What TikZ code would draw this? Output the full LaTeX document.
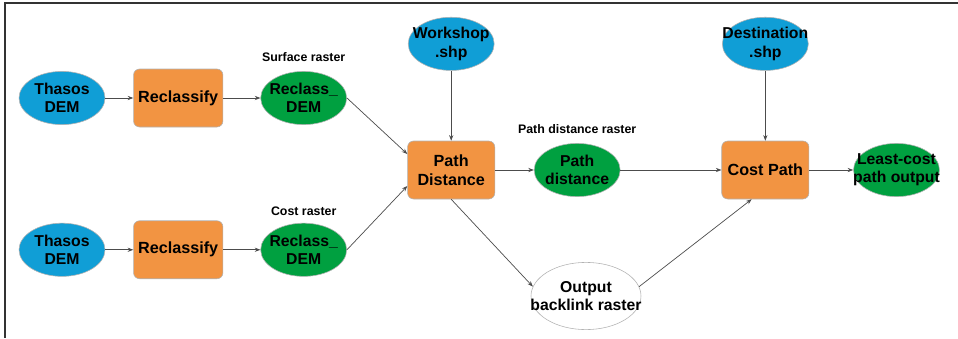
\documentclass[tikz,border=0pt]{standalone}
\usepackage{fontspec}
\setmainfont{Liberation Sans}
\usepackage{tikz}
\usetikzlibrary{positioning, shapes.geometric, arrows.meta}

\definecolor{inblue}{RGB}{16,158,214}
\definecolor{toolorange}{RGB}{242,148,66}
\definecolor{outgreen}{RGB}{0,160,64}

\begin{document}
\begin{tikzpicture}[
                tool/.style={draw=black!30, rectangle, rounded corners=0.15cm, fill=toolorange, minimum width=2.18cm, minimum height=1.45cm, align=center, font=\fontsize{11.5}{13.5}\selectfont\bfseries},
                blob/.style={draw=black!30, ellipse, minimum width=2.15cm, minimum height=1.33cm, inner xsep=-0.45cm, inner ysep=0pt, align=center, font=\fontsize{11.2}{13}\selectfont\bfseries},
                data/.style={blob, fill=inblue},
                result/.style={blob, fill=outgreen},
                rastername/.style={inner sep=0pt, font=\fontsize{8.8}{10}\selectfont\bfseries},
                edge/.style={draw=black!70, line width=0.5pt, -{Stealth[length=4pt, width=3pt]}}
            ]

            \useasboundingbox (0,0) rectangle (23.95,-8.45);
            \draw[line width=1.3pt, black!80] (23.95,-0.075) -- (0.125,-0.075) -- (0.125,-8.45);

            % nodes
            \node[data] (demA) at (1.55,-2.45) {Thasos\\DEM};
            \node[tool, right=0.7cm of demA] (reclA) {Reclassify};
            \node[result, right=0.93cm of reclA] (rasA) {Reclass\_\\DEM};
            \node[rastername, above=0.22cm of rasA] (surflbl) {Surface raster};

            \node[data, below=2.45cm of demA] (demB) {Thasos\\DEM};
            \node[tool, right=0.7cm of demB] (reclB) {Reclassify};
            \node[result, right=0.93cm of reclB] (rasB) {Reclass\_\\DEM};
            \node[rastername, above=0.18cm of rasB] (costlbl) {Cost raster};

            \node[tool] (pathdist) at (11.28,-4.25) {Path\\Distance};
            \node[data, above=1.75cm of pathdist] (workshop) {Workshop\\.shp};
            \node[result, right=0.97cm of pathdist] (pdras) {Path\\distance};
            \node[rastername, above=0.22cm of pdras] (pdlbl) {Path distance raster};

            \node[tool, right=2.525cm of pdras] (costpath) {Cost Path};
            \node[data, above=1.75cm of costpath] (dest) {Destination\\.shp};
            \node[result, right=1.1cm of costpath] (least) {Least-cost\\path output};

            \node[blob, fill=white, minimum width=2.75cm, minimum height=1.68cm] (backlink) at (14.65,-7.4) {Output\\backlink raster};

            % edges
            \draw[edge] (demA) -- (reclA);

            \draw[edge] (reclA) -- (rasA);

            \draw[edge] (demB) -- (reclB);

            \draw[edge] (reclB) -- (rasB);

            \draw[edge] (rasA.east) -- (pathdist.160);

            \draw[edge] (rasB.east) -- (pathdist.200);

            \draw[edge] (workshop) -- (pathdist);

            \draw[edge] (pathdist) -- (pdras);

            \draw[edge] (pdras) -- (costpath);

            \draw[edge] (dest) -- (costpath);

            \draw[edge] (costpath) -- (least);

            \draw[edge] (pathdist.south) -- (backlink.170);

            \draw[edge] (backlink.10) -- (costpath.245);

        \end{tikzpicture}
\end{document}
